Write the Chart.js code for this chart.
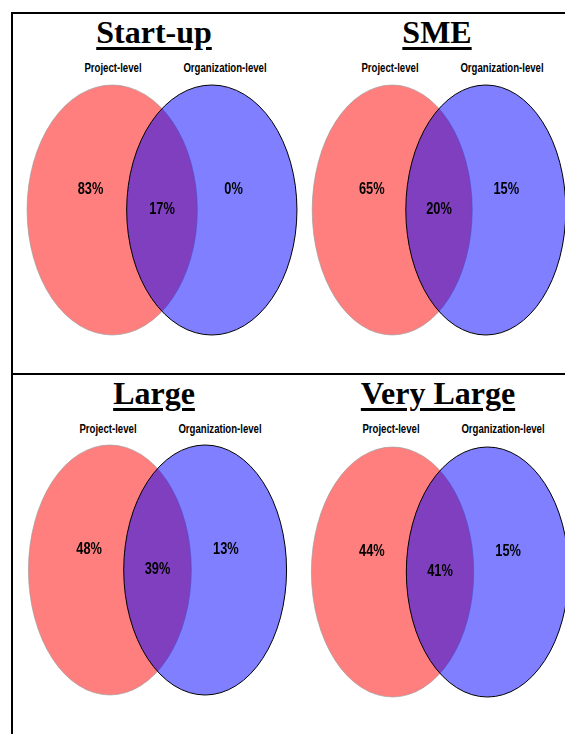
<!DOCTYPE html>
<html>
<head>
<meta charset="utf-8">
<script src="https://cdn.jsdelivr.net/npm/chart.js@4"></script>
<style>
  html, body { margin: 0; padding: 0; background: #fff; }
  body { width: 565px; height: 734px; position: relative; overflow: hidden; }
  .rule { position: absolute; background: #000; }
  .title {
    position: absolute; width: 240px; margin-left: -120px; text-align: center;
    font: bold 32px "Liberation Serif", "Times New Roman", serif; line-height: 32px;
    text-decoration: underline; text-decoration-thickness: 3px; text-underline-offset: 4px;
  }
  .setlab {
    position: absolute; width: 140px; margin-left: -70px; text-align: center;
    font: bold 12px "Liberation Sans", Arial, sans-serif; line-height: 14px;
    transform: scaleX(0.8); transform-origin: 50% 50%;
  }
  canvas { position: absolute; }
</style>
</head>
<body>
<div class="rule" style="left:12px;top:12px;width:553px;height:2px"></div>
<div class="rule" style="left:11px;top:12px;width:2px;height:722px"></div>
<div class="rule" style="left:12px;top:373px;width:553px;height:2px"></div>
<script>
// values (percent of respondents)
const panels = ['Start-up', 'SME', 'Large', 'Very Large'];
const setLabels = ['Project-level', 'Organization-level'];
const projectOnly = [83, 65, 48, 44];
const overlap = [17, 20, 39, 41];
const orgOnly = [0, 15, 13, 15];

// layout: centre of each venn on the page, half-width of one ellipse, in px
const panelMid = [[162, 210], [439, 210], [157, 570], [440, 572]];
const panelRx = [85, 80, 81.5, 81];
const titleX = [154, 437, 154, 438];
const H = 260;

// venn geometry in axis units (unit circle, stretched by the scales)
const setCenters = [-0.585, 0.585];
const setRadius = 1;
const regionX = [-0.84, 0, 0.84];
const regionY = [0.16, 0, 0.16];

const vennPlugin = {
  id: 'venn',
  beforeDatasetsDraw(chart) {
    const { ctx, scales: { x, y } } = chart;
    const fills = ['rgba(255,0,0,0.5)', 'rgba(0,0,255,0.5)'];
    const strokes = ['rgba(150,150,150,0.6)', '#000'];
    setCenters.forEach((c, i) => {
      const px = x.getPixelForValue(c);
      const py = y.getPixelForValue(0);
      const rx = x.getPixelForValue(c + setRadius) - px;
      const ry = py - y.getPixelForValue(setRadius);
      ctx.save();
      ctx.beginPath();
      ctx.ellipse(px, py, rx, ry, 0, 0, Math.PI * 2);
      ctx.fillStyle = fills[i];
      ctx.fill();
      ctx.lineWidth = 1;
      ctx.strokeStyle = strokes[i];
      ctx.stroke();
      ctx.restore();
    });
  },
  afterDatasetsDraw(chart) {
    const { ctx } = chart;
    const ds = chart.data.datasets[0];
    chart.getDatasetMeta(0).data.forEach((pt, i) => {
      ctx.save();
      ctx.translate(pt.x, pt.y);
      ctx.scale(0.8, 1); // narrow face
      ctx.font = 'bold 16px "Liberation Sans", Arial, sans-serif';
      ctx.fillStyle = '#000';
      ctx.textAlign = 'center';
      ctx.textBaseline = 'middle';
      ctx.fillText(ds.data[i].v + '%', 0, 0);
      ctx.restore();
    });
  }
};

panels.forEach((name, k) => {
  const [mx, my] = panelMid[k];
  const W = Math.round(panelRx[k] * 3.5);

  const t = document.createElement('div');
  t.className = 'title';
  t.textContent = name;
  t.style.left = titleX[k] + 'px';
  t.style.top = (k < 2 ? 16 : 377) + 'px';
  document.body.appendChild(t);

  [-49, 63].forEach((dx, j) => {
    const l = document.createElement('div');
    l.className = 'setlab';
    l.textContent = setLabels[j];
    l.style.left = (mx + dx) + 'px';
    l.style.top = (k < 2 ? 61 : 422) + 'px';
    document.body.appendChild(l);
  });

  const cv = document.createElement('canvas');
  cv.style.left = (mx - W / 2) + 'px';
  cv.style.top = (my - H / 2) + 'px';
  cv.style.width = W + 'px';
  cv.style.height = H + 'px';
  cv.width = W;
  cv.height = H;
  document.body.appendChild(cv);

  const vals = [projectOnly[k], overlap[k], orgOnly[k]];
  new Chart(cv, {
    type: 'scatter',
    data: {
      datasets: [{
        data: vals.map((v, i) => ({ x: regionX[i], y: regionY[i], v: v })),
        pointRadius: 0,
        pointHoverRadius: 0
      }]
    },
    options: {
      responsive: false,
      animation: false,
      events: [],
      layout: { padding: 0 },
      plugins: { legend: { display: false }, tooltip: { enabled: false } },
      scales: {
        x: { display: false, min: -1.75, max: 1.75 },
        y: { display: false, min: -1.04, max: 1.04 }
      }
    },
    plugins: [vennPlugin]
  });
});
</script>
</body>
</html>
